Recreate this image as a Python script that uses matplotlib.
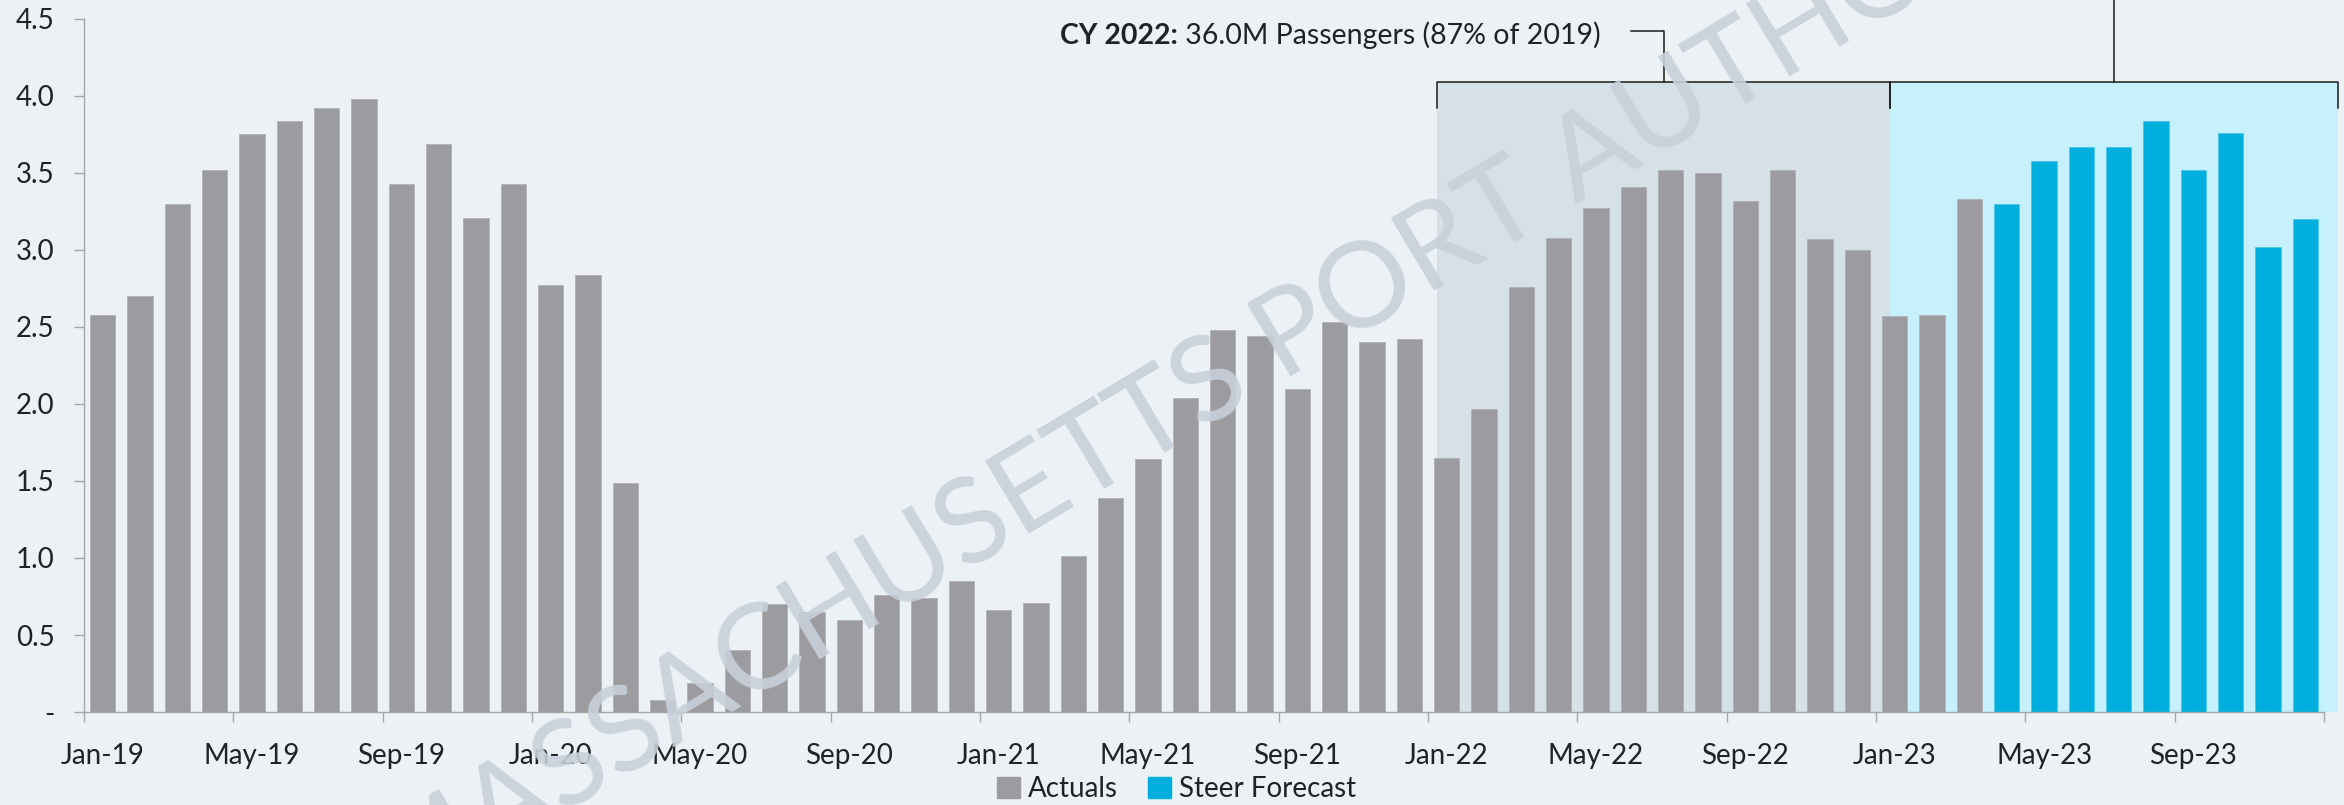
import matplotlib.pyplot as plt
from matplotlib.patches import Patch
import pandas as pd

# monthly passengers (millions), Jan-19 .. Mar-23 actuals, Apr-23 .. Dec-23 forecast
actuals = [2.58, 2.70, 3.30, 3.52, 3.75, 3.84, 3.92, 3.98, 3.43, 3.69, 3.21, 3.43,
           2.77, 2.84, 1.49, 0.08, 0.19, 0.40, 0.70, 0.65, 0.60, 0.76, 0.74, 0.85,
           0.66, 0.71, 1.01, 1.39, 1.64, 2.04, 2.48, 2.44, 2.10, 2.53, 2.40, 2.42,
           1.65, 1.97, 2.76, 3.08, 3.27, 3.41, 3.52, 3.50, 3.32, 3.52, 3.07, 3.00,
           2.57, 2.58, 3.33]
forecast = [3.30, 3.58, 3.67, 3.67, 3.84, 3.52, 3.76, 3.02, 3.20]

months = pd.date_range('2019-01-01', periods=60, freq='MS')
month_labels = [m.strftime('%b-%y') for m in months]
yticks = [0, 0.5, 1.0, 1.5, 2.0, 2.5, 3.0, 3.5, 4.0, 4.5]
ytick_labels = ['-', '0.5', '1.0', '1.5', '2.0', '2.5', '3.0', '3.5', '4.0', '4.5']

note_bold = 'CY 2022:'
note_rest = ' 36.0M Passengers (87% of 2019)'
watermark = 'MASSACHUSETTS PORT AUTHORITY'

bg = '#EBF1F4'
grey = '#9C9BA0'
blue = '#00AFDD'
txt = '#1F2326'

plt.rcParams['font.family'] = ['Lato', 'DejaVu Sans']
plt.rcParams['font.size'] = 20

fig = plt.figure(figsize=(23.44, 8.05), dpi=100, facecolor=bg)
ax = fig.add_axes([0.0358, 0.1155, 0.9616, 0.861])
ax.set_facecolor(bg)

xa = list(range(len(actuals)))
xf = list(range(len(actuals), len(actuals) + len(forecast)))

# shaded calendar-year blocks
ax.fill_between([35.74, 47.88], 0, 4.09, color='#D5E0E7', lw=0, zorder=0)
ax.fill_between([47.88, 59.87], 0, 4.09, color='#C5F0FC', lw=0, zorder=0)

ax.bar(xa, actuals, width=0.68, color=grey, edgecolor='#B0B0B5', lw=0.6, zorder=2)
ax.bar(xf, forecast, width=0.68, color=blue, edgecolor='#4EC6E8', lw=0.6, zorder=2)

# brackets
lc = '#1A1A1A'
for a, b in [(35.74, 47.88), (47.88, 59.87)]:
    ax.plot([a, a, b, b], [3.92, 4.09, 4.09, 3.92], color=lc, lw=1.1, zorder=3, clip_on=False)
ax.plot([41.81, 41.81, 40.94], [4.09, 4.42, 4.42], color=lc, lw=1.1, zorder=3, clip_on=False)
ax.plot([53.87, 53.87], [4.09, 4.75], color=lc, lw=1.1, zorder=3, clip_on=False)

t1 = ax.text(25.65, 4.34, note_bold, fontweight='bold', color=txt, fontsize=20.5,
             va='baseline', ha='left', clip_on=False)
ax.annotate(note_rest, xy=(1, 0), xycoords=t1, va='bottom', ha='left',
            color=txt, fontsize=20.5)

ax.set_xlim(-0.5, 59.87)
ax.set_ylim(0, 4.5)
ax.set_xticks(range(0, 60, 4), month_labels[::4])
ax.set_xticks([i - 0.5 for i in range(0, 61, 4)], minor=True)
ax.tick_params(axis='x', which='major', length=0, pad=22, labelcolor=txt)
ax.tick_params(axis='x', which='minor', length=7, width=1, color='#A6A6A6')
ax.set_yticks(yticks, ytick_labels)
ax.tick_params(axis='y', length=7, width=1, color='#A6A6A6', pad=14, labelcolor=txt)

for s in ['top', 'right']:
    ax.spines[s].set_visible(False)
for s in ['left', 'bottom']:
    ax.spines[s].set_color('#A6A6A6')
    ax.spines[s].set_linewidth(1)
ax.spines['bottom'].set_bounds(-0.5, 59.5)

handles = [Patch(color=grey, label='Actuals'), Patch(color=blue, label='Steer Forecast')]
fig.legend(handles=handles, loc='center', bbox_to_anchor=(0.502, 0.02), ncol=2,
           frameon=False, handlelength=0.8, handleheight=0.8, handletextpad=0.3,
           columnspacing=1.1, labelcolor=txt, fontsize=20)

fig.text(1261 / 2344, 1 - 355 / 805, watermark, rotation=31, rotation_mode='anchor',
         ha='center', va='center', fontsize=86, color='#C8D0DA', alpha=0.9,
         fontweight='normal', zorder=10)

fig.savefig('out.png', dpi=100, facecolor=bg)
